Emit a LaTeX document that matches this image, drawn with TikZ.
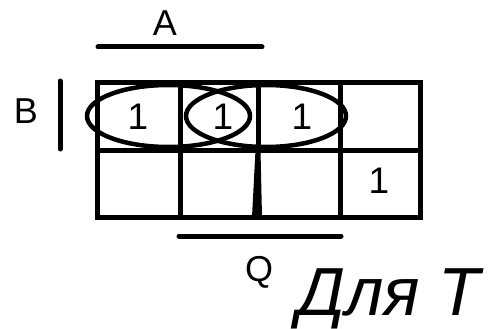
\documentclass[tikz,border=0pt]{standalone}
\usepackage{fontspec}
\setmainfont{Liberation Sans}
\usetikzlibrary{positioning}
\tikzset{
kgrid/.style={line width=5pt},
kbar/.style={line width=5pt,line cap=round},
kloop/.style={line width=4.5pt},
digit/.style={inner sep=0pt,font=\fontsize{37}{42}\selectfont},
varlabel/.style={inner sep=0pt,font=\fontsize{36}{42}\selectfont},
title/.style={inner sep=0pt,font=\fontsize{68}{72}\selectfont\itshape}
}
\begin{document}
\begin{tikzpicture}[x=1pt,y=-1pt]
\useasboundingbox (0,0) rectangle (495,329);
% map
\draw[kgrid] (97,82) rectangle (420,217);
\draw[kgrid] (97,150) -- (420,150);
\draw[kgrid] (180,82) -- (180,217);
\draw[kgrid] (258,82) -- (258,150);
\fill (255.5,150) -- (260.5,150) -- (262,217) -- (252,217) -- cycle;
\draw[kgrid] (340,82) -- (340,217);
% cells
\node[digit] (c11) at (138,117) {1};
\node[digit] (c12) at (223,117) {1};
\node[digit] (c13) at (302,117) {1};
\node[digit] (c24) at (379,181) {1};
% groups
\draw[kloop] (168.5,116) ellipse [x radius=81.5,y radius=31];
\draw[kloop] (266,116) ellipse [x radius=80,y radius=31];
% variables
\node[varlabel] (a) at (165,23) {A};
\draw[kbar] (98,47) -- (262,47);
\node[varlabel] (b) at (26,111) {B};
\draw[kbar] (60,81) -- (60,149);
\draw[kbar] (179,236) -- (341,236);
\node[varlabel] (q) at (259,272) {Q};
\node[title] (t) at (389,299) {Для Т};
\end{tikzpicture}
\end{document}
